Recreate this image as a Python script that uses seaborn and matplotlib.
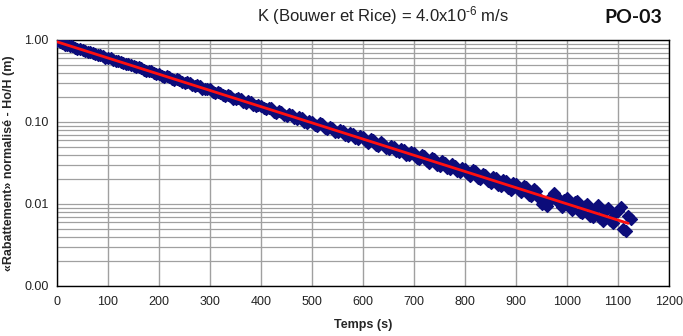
import matplotlib
matplotlib.use("Agg")
import matplotlib.pyplot as plt
import matplotlib.ticker as mticker
import numpy as np
import pandas as pd
import seaborn as sns

# ---- data ----
# readings at whole 10 s steps
temps_a = [
    0, 10, 20, 30, 40, 50, 60, 70, 80, 90,
    100, 110, 120, 130, 140, 150, 160, 170, 180, 190,
    200, 210, 220, 230, 240, 250, 260, 270, 280, 290,
    300, 310, 320, 330, 340, 350, 360, 370, 380, 390,
    400, 410, 420, 430, 440, 450, 460, 470, 480, 490,
    500, 510, 520, 530, 540, 550, 560, 570, 580, 590,
    600, 610, 620, 630, 640, 650, 660, 670, 680, 690,
    700, 710, 720, 730, 740, 750, 760, 770, 780, 790,
    800, 810, 820, 830, 840, 850, 860, 870, 880, 890,
    900, 910, 920, 930, 940, 950, 960, 970, 980, 990,
    1000, 1010, 1020, 1030, 1040, 1050, 1060, 1070, 1080, 1090,
    1100, 1110, 1120,
]
rabattement_a = [
    0.985, 0.915, 0.860, 0.838, 0.785, 0.765, 0.716, 0.697, 0.652, 0.640,
    0.610, 0.570, 0.556, 0.520, 0.508, 0.476, 0.465, 0.433, 0.424, 0.396,
    0.390, 0.358, 0.357, 0.327, 0.325, 0.298, 0.297, 0.272, 0.271, 0.249,
    0.249, 0.226, 0.228, 0.205, 0.208, 0.188, 0.190, 0.171, 0.174, 0.157,
    0.158, 0.142, 0.146, 0.129, 0.133, 0.118, 0.121, 0.108, 0.111, 0.098,
    0.1010, 0.0890, 0.0935, 0.0810, 0.0850, 0.0745, 0.0775, 0.0680, 0.0710, 0.0620,
    0.0650, 0.0560, 0.0600, 0.0510, 0.0545, 0.0470, 0.0500, 0.0425, 0.0455, 0.0390,
    0.0420, 0.0350, 0.0385, 0.0315, 0.0350, 0.0290, 0.0320, 0.0265, 0.0290, 0.0245,
    0.0270, 0.0220, 0.0250, 0.0200, 0.0225, 0.0180, 0.0205, 0.0165, 0.0190, 0.0150,
    0.0175, 0.0140, 0.0160, 0.0125, 0.0145, 0.0100, 0.0095, 0.0125, 0.0120, 0.0092,
    0.0118, 0.0085, 0.0110, 0.0078, 0.0100, 0.0070, 0.0098, 0.0062, 0.0090, 0.0058,
    0.0082, 0.0050, 0.0072,
]
# readings at the half steps (5, 15, 25 ... s)
temps_b = [
    5, 15, 25, 35, 45, 55, 65, 75, 85, 95,
    105, 115, 125, 135, 145, 155, 165, 175, 185, 195,
    205, 215, 225, 235, 245, 255, 265, 275, 285, 295,
    305, 315, 325, 335, 345, 355, 365, 375, 385, 395,
    405, 415, 425, 435, 445, 455, 465, 475, 485, 495,
    505, 515, 525, 535, 545, 555, 565, 575, 585, 595,
    605, 615, 625, 635, 645, 655, 665, 675, 685, 695,
    705, 715, 725, 735, 745, 755, 765, 775, 785, 795,
    805, 815, 825, 835, 845, 855, 865, 875, 885, 895,
    905, 915, 925, 935, 945, 955, 965, 975, 985, 995,
    1005, 1015, 1025, 1035, 1045, 1055, 1065, 1075, 1085, 1095,
    1105, 1115, 1125,
]
rabattement_b = [
    0.940, 0.880, 0.855, 0.802, 0.781, 0.733, 0.713, 0.668, 0.652, 0.610,
    0.596, 0.556, 0.545, 0.508, 0.497, 0.464, 0.455, 0.423, 0.415, 0.386,
    0.366, 0.365, 0.334, 0.334, 0.305, 0.305, 0.279, 0.279, 0.254, 0.255,
    0.232, 0.233, 0.211, 0.213, 0.193, 0.195, 0.176, 0.178, 0.160, 0.163,
    0.146, 0.150, 0.133, 0.137, 0.122, 0.126, 0.111, 0.114, 0.101, 0.104,
    0.0920, 0.0960, 0.0835, 0.0880, 0.0760, 0.0805, 0.0690, 0.0735, 0.0630, 0.0665,
    0.0580, 0.0620, 0.0525, 0.0565, 0.0480, 0.0515, 0.0440, 0.0470, 0.0400, 0.0430,
    0.0365, 0.0400, 0.0330, 0.0365, 0.0300, 0.0335, 0.0275, 0.0305, 0.0250, 0.0275,
    0.0230, 0.0260, 0.0205, 0.0235, 0.0188, 0.0212, 0.0170, 0.0195, 0.0158, 0.0178,
    0.0150, 0.0165, 0.0130, 0.0152, 0.0118, 0.0105, 0.0110, 0.0135, 0.0102, 0.0112,
    0.0092, 0.0105, 0.0080, 0.0095, 0.0072, 0.0088, 0.0068, 0.0082, 0.0064, 0.0078,
    0.0092, 0.0047, 0.0065,
]
fit_temps = [0, 1120]
fit_values = [0.95, 0.0058]

x_ticks = [0, 100, 200, 300, 400, 500, 600, 700, 800, 900, 1000, 1100, 1200]
y_ticks = [0.001, 0.01, 0.1, 1.0]
y_tick_labels = ["0.00", "0.01", "0.10", "1.00"]

# ---- plot ----
sns.set_style("white")
plt.rcParams["font.family"] = ["Liberation Sans", "DejaVu Sans"]
plt.rcParams["mathtext.fontset"] = "custom"
plt.rcParams["mathtext.rm"] = "Liberation Sans"
plt.rcParams["mathtext.it"] = "Liberation Sans"

fig = plt.figure(figsize=(6.83, 3.36), dpi=100)
ax = fig.add_axes([0.0835, 0.149, 0.896, 0.732])

df = pd.DataFrame({"t": temps_a + temps_b, "r": rabattement_a + rabattement_b})
fit = pd.DataFrame({"t": fit_temps, "r": fit_values})

sns.scatterplot(data=df, x="t", y="r", ax=ax, marker="D", s=36,
                color="#0c0c7a", edgecolor="#0c0c7a", linewidth=1.0, zorder=3)
sns.lineplot(data=fit, x="t", y="r", ax=ax, color="#ff1010", lw=2.0, zorder=4)

ax.set_yscale("log")
ax.set_xlim(0, 1200)
ax.set_ylim(0.001, 1.0)
ax.set_xticks(x_ticks)
ax.set_xticklabels([str(v) for v in x_ticks])
ax.yaxis.set_major_locator(mticker.FixedLocator(y_ticks))
ax.yaxis.set_major_formatter(mticker.FixedFormatter(y_tick_labels))
ax.yaxis.set_minor_locator(mticker.LogLocator(base=10, subs=np.arange(2, 10)))
ax.yaxis.set_minor_formatter(mticker.NullFormatter())

ax.grid(True, which="major", axis="x", color="#a0a0a0", lw=1.0)
ax.grid(True, which="both", axis="y", color="#a0a0a0", lw=0.9)
ax.set_axisbelow(True)
for s in ax.spines.values():
    s.set_color("black")
    s.set_linewidth(1.0)

ax.tick_params(axis="x", which="both", length=0, labelsize=9, pad=7, colors="#222222")
ax.tick_params(axis="y", which="major", length=4, direction="out", labelsize=9,
               pad=2, colors="#222222")
ax.tick_params(axis="y", which="minor", length=0)

ax.set_xlabel("Temps (s)", fontsize=9, fontweight="bold", labelpad=8)
ax.set_ylabel("«Rabattement» normalisé - Ho/H (m)", fontsize=9,
              fontweight="bold", labelpad=7)

fig.text(0.561, 0.955, r"K (Bouwer et Rice) = 4.0x10$^{\text{-6}}$ m/s", ha="center",
         va="center", fontsize=12, color="#222222")
fig.text(0.927, 0.948, "PO-03", ha="center", va="center", fontsize=14,
         fontweight="bold", family=["Lato", "DejaVu Sans"], color="#111111")

fig.savefig("out.png", dpi=100)
